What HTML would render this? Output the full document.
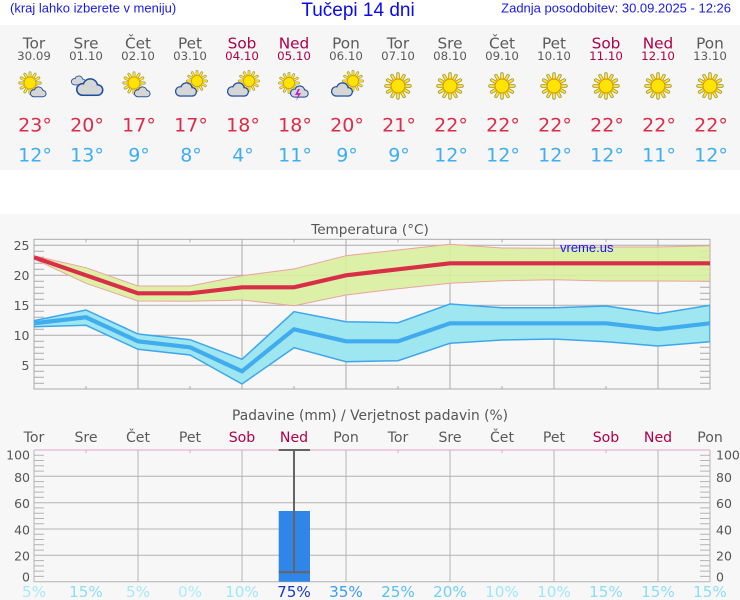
<!DOCTYPE html>
<html><head><meta charset="utf-8"><style>
html,body{margin:0;padding:0;background:#fff;width:740px;height:600px;overflow:hidden}
svg{display:block}
.a{font-family:"Liberation Sans",Arial,sans-serif}
.d{font-family:"DejaVu Sans",Verdana,sans-serif}
</style></head><body>
<svg width="740" height="600" viewBox="0 0 740 600" xmlns="http://www.w3.org/2000/svg">
<defs>
<g id="sun">
<path d="M7,0L12,0M6.06,3.5L10.39,6M3.5,6.06L6,10.39M0,7L0,12M-3.5,6.06L-6,10.39M-6.06,3.5L-10.39,6M-7,0L-12,0M-6.06,-3.5L-10.39,-6M-3.5,-6.06L-6,-10.39M0,-7L0,-12M3.5,-6.06L6,-10.39M6.06,-3.5L10.39,-6" stroke="#a09050" stroke-width="3.4" stroke-linecap="round"/>
<path d="M7,0L12,0M6.06,3.5L10.39,6M3.5,6.06L6,10.39M0,7L0,12M-3.5,6.06L-6,10.39M-6.06,3.5L-10.39,6M-7,0L-12,0M-6.06,-3.5L-10.39,-6M-3.5,-6.06L-6,-10.39M0,-7L0,-12M3.5,-6.06L6,-10.39M6.06,-3.5L10.39,-6" stroke="#fff020" stroke-width="1.8" stroke-linecap="round"/>
<circle r="7" fill="#ffe400" stroke="#e39a00" stroke-width="1.2"/>
</g>
<g id="cloud">
<g fill="#1d4e9e"><circle cx="6" cy="9.5" r="6"/><circle cx="13" cy="6.5" r="7.3"/><circle cx="19.5" cy="10" r="5.5"/><rect x="6" y="8" width="13.5" height="7.5"/></g>
<g fill="#d6d6d6"><circle cx="6" cy="9.5" r="4.6"/><circle cx="13" cy="6.5" r="5.9"/><circle cx="19.5" cy="10" r="4.1"/><rect x="6" y="9.5" width="13.5" height="4.6"/></g>
</g>
<clipPath id="pc"><rect x="34" y="239.3" width="676" height="149.7"/></clipPath>
</defs>

<!-- header -->
<text class="a" x="10" y="12.5" font-size="13" fill="#1a1ae6">(kraj lahko izberete v meniju)</text>
<text class="a" x="358" y="16" font-size="19" fill="#0a0af0" text-anchor="middle">Tučepi 14 dni</text>
<text class="a" x="731" y="12.5" font-size="13" fill="#1a1ae6" text-anchor="end">Zadnja posodobitev: 30.09.2025 - 12:26</text>

<rect x="0" y="25" width="740" height="145" fill="#f6f6f6"/>

<g class="d" text-anchor="middle">
<g font-size="15.3" fill="#5a5a5a">
<text x="34" y="48.3">Tor</text><text x="86" y="48.3">Sre</text><text x="138" y="48.3">Čet</text><text x="190" y="48.3">Pet</text>
<text x="242" y="48.3" fill="#b0004a">Sob</text><text x="294" y="48.3" fill="#b0004a">Ned</text><text x="346" y="48.3">Pon</text>
<text x="398" y="48.3">Tor</text><text x="450" y="48.3">Sre</text><text x="502" y="48.3">Čet</text><text x="554" y="48.3">Pet</text>
<text x="606" y="48.3" fill="#b0004a">Sob</text><text x="658" y="48.3" fill="#b0004a">Ned</text><text x="710" y="48.3">Pon</text>
</g>
<g font-size="11.8" fill="#5a5a5a">
<text x="34" y="60">30.09</text><text x="86" y="60">01.10</text><text x="138" y="60">02.10</text><text x="190" y="60">03.10</text>
<text x="242" y="60" fill="#b0004a">04.10</text><text x="294" y="60" fill="#b0004a">05.10</text><text x="346" y="60">06.10</text>
<text x="398" y="60">07.10</text><text x="450" y="60">08.10</text><text x="502" y="60">09.10</text><text x="554" y="60">10.10</text>
<text x="606" y="60" fill="#b0004a">11.10</text><text x="658" y="60" fill="#b0004a">12.10</text><text x="710" y="60">13.10</text>
</g>
<g font-size="19" fill="#dc2c48">
<text x="35" y="131.7">23°</text><text x="87" y="131.7">20°</text><text x="139" y="131.7">17°</text><text x="191" y="131.7">17°</text>
<text x="243" y="131.7">18°</text><text x="295" y="131.7">18°</text><text x="347" y="131.7">20°</text><text x="399" y="131.7">21°</text>
<text x="451" y="131.7">22°</text><text x="503" y="131.7">22°</text><text x="555" y="131.7">22°</text><text x="607" y="131.7">22°</text>
<text x="659" y="131.7">22°</text><text x="711" y="131.7">22°</text>
</g>
<g font-size="19" fill="#3eaef0">
<text x="35" y="161.7">12°</text><text x="87" y="161.7">13°</text><text x="139" y="161.7">9°</text><text x="191" y="161.7">8°</text>
<text x="243" y="161.7">4°</text><text x="295" y="161.7">11°</text><text x="347" y="161.7">9°</text><text x="399" y="161.7">9°</text>
<text x="451" y="161.7">12°</text><text x="503" y="161.7">12°</text><text x="555" y="161.7">12°</text><text x="607" y="161.7">12°</text>
<text x="659" y="161.7">11°</text><text x="711" y="161.7">12°</text>
</g>
</g>

<!-- icons -->
<use href="#sun" transform="translate(30,83) scale(0.85)"/><use href="#cloud" transform="translate(30,87) scale(0.66)"/>
<use href="#cloud" transform="translate(71,76) scale(0.6)"/><use href="#cloud" transform="translate(76,79) scale(1.1)"/>
<use href="#sun" transform="translate(134,83) scale(0.85)"/><use href="#cloud" transform="translate(134,87) scale(0.66)"/>
<use href="#sun" transform="translate(197,81) scale(0.8)"/><use href="#cloud" transform="translate(175,83) scale(0.88)"/>
<use href="#sun" transform="translate(249,81) scale(0.8)"/><use href="#cloud" transform="translate(227,83) scale(0.88)"/>
<use href="#sun" transform="translate(289,83) scale(0.8)"/><use href="#cloud" transform="translate(290,86) scale(0.75)"/>
<polygon points="298,89 295,95 298,95 296,101 301,93 298,93 300,89" fill="#c028c8"/>
<use href="#sun" transform="translate(353,81) scale(0.8)"/><use href="#cloud" transform="translate(331,83) scale(0.88)"/>
<use href="#sun" transform="translate(398,86)"/><use href="#sun" transform="translate(450,86)"/><use href="#sun" transform="translate(502,86)"/>
<use href="#sun" transform="translate(554,86)"/><use href="#sun" transform="translate(606,86)"/><use href="#sun" transform="translate(658,86)"/>
<use href="#sun" transform="translate(710,86)"/>

<!-- chart background -->
<rect x="0" y="214" width="740" height="386" fill="#f7f7f7"/>

<!-- temperature chart -->
<text class="d" x="370" y="234" font-size="13.6" fill="#555" text-anchor="middle">Temperatura (°C)</text>
<g stroke="#ababab" stroke-width="1" fill="none">
<path d="M138,239.3V389M242,239.3V389M346,239.3V389M450,239.3V389M554,239.3V389M658,239.3V389"/>
<path d="M34,245.3H710M34,275.3H710M34,305.3H710M34,335.3H710M34,365.3H710"/>
<path d="M86,239.3v3M190,239.3v3M294,239.3v3M398,239.3v3M502,239.3v3M606,239.3v3M86,389v-3M190,389v-3M294,389v-3M398,389v-3M502,389v-3M606,389v-3"/>
<path d="M34,383.3h10M34,377.3h10M34,371.3h10M34,359.3h10M34,353.3h10M34,347.3h10M34,341.3h10M34,329.3h10M34,323.3h10M34,317.3h10M34,311.3h10M34,299.3h10M34,293.3h10M34,287.3h10M34,281.3h10M34,269.3h10M34,263.3h10M34,257.3h10M34,251.3h10"/>
<path d="M700,383.3h10M700,377.3h10M700,371.3h10M700,359.3h10M700,353.3h10M700,347.3h10M700,341.3h10M700,329.3h10M700,323.3h10M700,317.3h10M700,311.3h10M700,299.3h10M700,293.3h10M700,287.3h10M700,281.3h10M700,269.3h10M700,263.3h10M700,257.3h10M700,251.3h10"/>
<rect x="34" y="239.3" width="676" height="149.7"/>
</g>
<g class="d" font-size="12.5" fill="#555" text-anchor="end">
<text x="29.5" y="250">25</text><text x="29.5" y="280">20</text><text x="29.5" y="310">15</text><text x="29.5" y="340">10</text><text x="29.5" y="370">5</text>
</g>
<g clip-path="url(#pc)">
<polygon points="34,255.7 86,267.7 138,286 190,286 242,275.7 294,269 346,255.7 398,250 450,244.3 502,248 554,248.3 606,247 658,247 710,245.7 710,281.3 658,281 606,281 554,279.7 502,280.7 450,283.3 398,288.7 346,295 294,305.7 242,300 190,301.3 138,301 86,283.3 34,259" fill="#d8ee9e" fill-opacity="0.9" stroke="#eba49c" stroke-width="1"/>
<polygon points="34,320.7 86,310 138,334 190,339.7 242,359.3 294,311.7 346,321.7 398,322.7 450,304 502,307.7 554,307.7 606,306 658,313.7 710,305.3 710,341.7 658,346 606,341.7 554,339 502,340 450,343.3 398,360.7 346,361.7 294,347.7 242,384 190,355 138,349.3 86,325.3 34,326.7" fill="#9ee6f0" stroke="#3ea6ec" stroke-width="1.5"/>
<polyline points="34,257.3 86,275.3 138,293.3 190,293.3 242,287.3 294,287.3 346,275.3 398,269.3 450,263.3 502,263.3 554,263.3 606,263.3 658,263.3 710,263.3" fill="none" stroke="#d92e48" stroke-width="4.2"/>
<polyline points="34,323.3 86,317.3 138,341.3 190,347.3 242,371.3 294,329.3 346,341.3 398,341.3 450,323.3 502,323.3 554,323.3 606,323.3 658,329.3 710,323.3" fill="none" stroke="#40acee" stroke-width="4.2"/>
</g>
<text class="a" x="560" y="252" font-size="13" fill="#1414ff">vreme.us</text>

<!-- precipitation chart -->
<text class="d" x="370" y="420" font-size="13.8" fill="#555" text-anchor="middle">Padavine (mm) / Verjetnost padavin (%)</text>
<g class="d" font-size="14.1" fill="#5a5a5a" text-anchor="middle">
<text x="34" y="442">Tor</text><text x="86" y="442">Sre</text><text x="138" y="442">Čet</text><text x="190" y="442">Pet</text>
<text x="242" y="442" fill="#b0004a">Sob</text><text x="294" y="442" fill="#b0004a">Ned</text><text x="346" y="442">Pon</text>
<text x="398" y="442">Tor</text><text x="450" y="442">Sre</text><text x="502" y="442">Čet</text><text x="554" y="442">Pet</text>
<text x="606" y="442" fill="#b0004a">Sob</text><text x="658" y="442" fill="#b0004a">Ned</text><text x="710" y="442">Pon</text>
</g>
<g stroke="#b4b4b4" stroke-width="1" fill="none">
<path d="M138,450V581.7M242,450V581.7M346,450V581.7M450,450V581.7M554,450V581.7M658,450V581.7"/>
<path d="M34,476.3H710M34,502.7H710M34,529H710M34,555.3H710"/>
<path d="M34,450V581.7H710V450"/>
<path d="M34,455.3h10M34,460.5h10M34,465.8h10M34,471.1h10M34,481.6h10M34,486.9h10M34,492.1h10M34,497.4h10M34,507.9h10M34,513.2h10M34,518.5h10M34,523.7h10M34,534.3h10M34,539.5h10M34,544.8h10M34,550.1h10M34,560.6h10M34,565.9h10M34,571.1h10M34,576.4h10"/>
<path d="M700,455.3h10M700,460.5h10M700,465.8h10M700,471.1h10M700,481.6h10M700,486.9h10M700,492.1h10M700,497.4h10M700,507.9h10M700,513.2h10M700,518.5h10M700,523.7h10M700,534.3h10M700,539.5h10M700,544.8h10M700,550.1h10M700,560.6h10M700,565.9h10M700,571.1h10M700,576.4h10"/>
</g>
<g stroke="#e3a6c0" stroke-width="1" fill="none">
<path d="M34,450H710"/>
<path d="M86,450v3M190,450v3M398,450v3M502,450v3M606,450v3"/>
</g>
<g class="d" font-size="12.5" fill="#555">
<g text-anchor="end">
<text x="30" y="459.5">100</text><text x="30" y="482">80</text><text x="30" y="508">60</text><text x="30" y="534.5">40</text><text x="30" y="560.5">20</text><text x="30" y="581.5">0</text>
</g>
<text x="716" y="459.5">100</text><text x="716" y="482">80</text><text x="716" y="508">60</text><text x="716" y="534.5">40</text><text x="716" y="560.5">20</text><text x="716" y="581.5">0</text>
</g>
<rect x="278.7" y="511" width="31.3" height="70.7" fill="#2f86e8"/>
<g stroke="#646464" stroke-width="2" fill="none">
<path d="M294,450V572.3M278.7,450H310M278.7,572.3H310"/>
</g>
<g class="d" font-size="15.2" text-anchor="middle">
<text x="34" y="597" fill="#a6e8f8">5%</text>
<text x="86" y="597" fill="#8cdcf4">15%</text>
<text x="138" y="597" fill="#a6e8f8">5%</text>
<text x="190" y="597" fill="#aaecf8">0%</text>
<text x="242" y="597" fill="#9ee6f8">10%</text>
<text x="294" y="597" fill="#1838d0">75%</text>
<text x="346" y="597" fill="#3c9cf0">35%</text>
<text x="398" y="597" fill="#56c0f4">25%</text>
<text x="450" y="597" fill="#72d0f4">20%</text>
<text x="502" y="597" fill="#9ee6f8">10%</text>
<text x="554" y="597" fill="#9ee6f8">10%</text>
<text x="606" y="597" fill="#8cdcf4">15%</text>
<text x="658" y="597" fill="#8cdcf4">15%</text>
<text x="710" y="597" fill="#8cdcf4">15%</text>
</g>
</svg>
</body></html>
